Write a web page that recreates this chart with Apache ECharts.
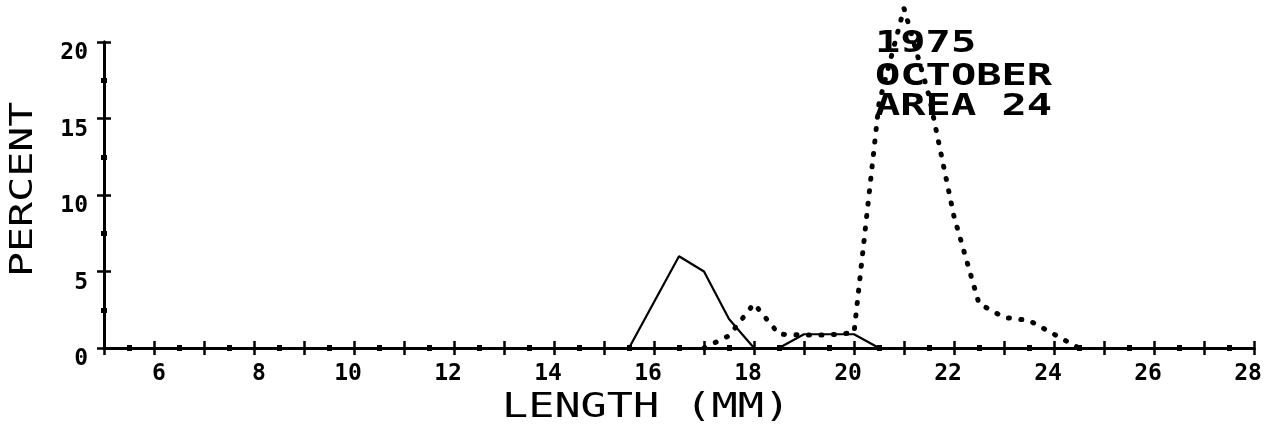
<!DOCTYPE html>
<html>
<head>
<meta charset="utf-8">
<script src="https://cdn.jsdelivr.net/npm/echarts@6/dist/echarts.min.js"></script>
<style>
html,body{margin:0;padding:0;background:#fff;}
#chart{width:1276px;height:429px;}
</style>
</head>
<body>
<div id="chart"></div>
<script>
// Solid curve (length mm, percent)
const solidX = [15.5, 16.5, 17.0, 17.5, 18.0, 18.5, 19.0, 19.5, 20.0, 20.5];
const solidY = [0, 6.0, 5.0, 1.9, 0, 0, 0.9, 0.9, 0.9, 0];
// Dotted curve (length mm, percent)
const dottedX = [17.0, 17.5, 18.0, 18.5, 19.0, 19.5, 20.0, 20.5, 21.0, 21.5, 22.0, 22.5, 23.0, 23.5, 24.0, 24.5];
const dottedY = [0, 0.8, 2.9, 0.9, 0.85, 0.85, 1.0, 16.0, 22.2, 16.5, 8.6, 2.9, 2.0, 1.8, 0.9, 0];
// Axis settings
const xMin = 5, xMax = 28, xStep = 1;
const yMin = 0, yMax = 20, yStep = 5;
// Texts
const xTitle = 'LENGTH (MM)';
const yTitle = 'PERCENT';
const noteLines = ['1975', 'OCTOBER', 'AREA 24'];

const zip = (xs, ys) => xs.map((x, i) => [x, ys[i]]);
const mono = '"DejaVu Sans Mono", "Liberation Mono", monospace';

const chart = echarts.init(document.getElementById('chart'));

function xAxisDef(inside, showLabel) {
  return {
    type: 'value', position: 'bottom', min: xMin, max: xMax, interval: xStep,
    axisLine: { show: true, onZero: false, lineStyle: { color: '#000', width: 3 } },
    axisTick: { show: true, inside: inside, length: 7, lineStyle: { color: '#000', width: 2.5 } },
    minorTick: { show: true, splitNumber: 2, length: 3, lineStyle: { color: '#000', width: 5 } },
    splitLine: { show: false }, minorSplitLine: { show: false },
    axisLabel: {
      show: showLabel, margin: 15, color: '#000',
      fontFamily: mono, fontWeight: 'bold', fontSize: 23,
      formatter: function (v) {
        if (v % 2 !== 0) return '';
        return String(v).length === 1 ? '{a|' + v + '}' : '{b|' + v + '}';
      },
      rich: {
        a: { fontFamily: mono, fontWeight: 'bold', fontSize: 23, color: '#000', padding: [0, 0, 0, 10] },
        b: { fontFamily: mono, fontWeight: 'bold', fontSize: 23, color: '#000', padding: [0, 12, 0, 0] }
      }
    }
  };
}
function yAxisDef(inside, showLabel) {
  return {
    type: 'value', position: 'left', min: yMin, max: yMax, interval: yStep,
    axisLine: { show: true, onZero: false, lineStyle: { color: '#000', width: 3 } },
    axisTick: { show: true, inside: inside, length: 7, lineStyle: { color: '#000', width: 2.5 } },
    minorTick: { show: true, splitNumber: 2, length: 3, lineStyle: { color: '#000', width: 5 } },
    splitLine: { show: false }, minorSplitLine: { show: false },
    axisLabel: {
      show: showLabel, margin: 16, color: '#000',
      fontFamily: mono, fontWeight: 'bold', fontSize: 23,
      verticalAlign: 'top'
    }
  };
}

const graphics = [];
noteLines.forEach(function (t, i) {
  graphics.push({
    type: 'text', x: 875, y: [44, 76.5, 106.5][i], scaleX: 1.356, scaleY: 1, z: 10,
    style: { text: t, font: 'bold 31px ' + mono, fill: '#000',
      textAlign: 'left', textVerticalAlign: 'middle', align: 'left', verticalAlign: 'middle' }
  });
});
graphics.push({
  type: 'text', x: 502, y: 408, scaleX: 1.28, z: 10,
  style: { text: xTitle, font: '34px ' + mono, fill: '#000',
    textAlign: 'left', textVerticalAlign: 'middle', align: 'left', verticalAlign: 'middle' }
});
graphics.push({
  type: 'text', x: 24, y: 277, rotation: Math.PI / 2, scaleX: 1.30, z: 10,
  style: { text: yTitle, font: '32px ' + mono, fill: '#000',
    textAlign: 'left', textVerticalAlign: 'middle', align: 'left', verticalAlign: 'middle' }
});

chart.setOption({
  animation: false,
  backgroundColor: '#fff',
  grid: { left: 104, right: 22, top: 42, bottom: 81, containLabel: false },
  xAxis: [xAxisDef(false, true), xAxisDef(true, false)],
  yAxis: [yAxisDef(false, true), yAxisDef(true, false)],
  graphic: graphics,
  series: [
    {
      type: 'line', xAxisIndex: 0, yAxisIndex: 0, data: zip(solidX, solidY),
      showSymbol: false, clip: false, smooth: false,
      lineStyle: { color: '#000', width: 2.2 }
    },
    {
      type: 'line', xAxisIndex: 0, yAxisIndex: 0, data: zip(dottedX, dottedY),
      showSymbol: false, clip: false, smooth: false, z: 12,
      lineStyle: { color: '#000', width: 5, type: [1, 11.5], cap: 'round' }
    }
  ]
});
</script>
</body>
</html>
